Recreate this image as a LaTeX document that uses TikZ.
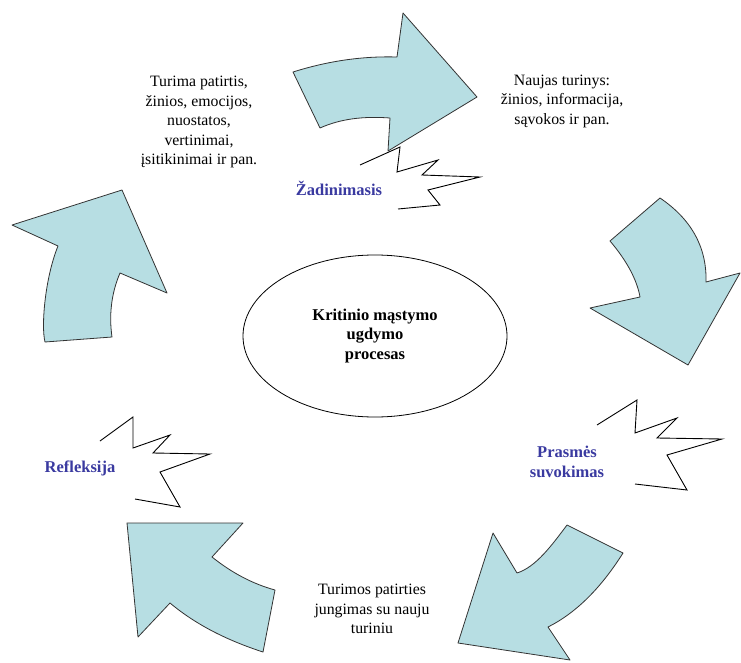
\documentclass[tikz,border=0pt]{standalone}
\usepackage{fontspec}
\setmainfont{Liberation Serif}
\usetikzlibrary{shapes.geometric}
\definecolor{arrowfill}{RGB}{183,222,227}
\definecolor{labelblue}{RGB}{58,58,160}
\begin{document}
\begin{tikzpicture}[x=1pt,y=-1pt,
  bigarrow/.style={fill=arrowfill,draw=black!80,line width=0.8pt,line join=round},
  zig/.style={draw=black,line width=0.9pt,line join=miter},
  plain/.style={align=center,font=\fontsize{15.8}{19.5}\selectfont,inner sep=0pt},
  stage/.style={align=center,font=\fontsize{16.5}{20}\selectfont\bfseries,text=labelblue,inner sep=0pt},
  core/.style={ellipse,draw=black,line width=0.8pt,minimum width=264pt,minimum height=162pt,
    align=center,font=\fontsize{16.5}{19.5}\selectfont\bfseries}]
\useasboundingbox (0,0) rectangle (741,663);
% arrows
\path[bigarrow] (293,72) .. controls (328,61) and (362,56) .. (397,57) -- (403,13) -- (477,97) -- (388,151) -- (390,118) .. controls (363,116) and (340,119) .. (320,128) -- cycle;
\path[bigarrow] (610,241) -- (660,198) .. controls (691,219) and (707,247) .. (706,282) -- (740,273) -- (688,365) -- (590,308) -- (640,297) .. controls (637,280) and (627,261) .. cycle;
\path[bigarrow] (567,525) -- (623,553) .. controls (601,588) and (576,613) .. (548,627) -- (570,660) -- (458,643) -- (493,533) -- (517,573) .. controls (536,567) and (552,545) .. cycle;
\path[bigarrow] (127,523) -- (243,523) -- (212,557) .. controls (232,573) and (253,584) .. (275,590) -- (263,652) .. controls (226,640) and (195,624) .. (170,603) -- (138,637) -- cycle;
\path[bigarrow] (45,342) -- (112,337) .. controls (109,316) and (111,294) .. (120,273) -- (167,293) -- (122,190) -- (12,225) -- (58,246) .. controls (45,278) and (41,326) .. cycle;
% zigzags
\draw[zig] (360,165) -- (400,147) -- (397,172) -- (438,160) -- (422,175) -- (480,177) -- (428,190) -- (440,205) -- (398,209);
\draw[zig] (597,425) -- (637,400) -- (635,433) -- (677,418) -- (657,438) -- (722,439) -- (667,455) -- (687,490) -- (635,484);
\draw[zig] (100,441) -- (133,417) -- (133,448) -- (170,435) -- (153,453) -- (210,454) -- (160,472) -- (180,507) -- (135,499);
% centre
\node[core] (centre) at (375,336) {Kritinio mąstymo\\ugdymo\\procesas};
% texts
\node[plain] (prior) at (199,122) {Turima patirtis,\\žinios, emocijos,\\nuostatos,\\vertinimai,\\įsitikinimai ir pan.};
\node[plain] (newc) at (562,101) {Naujas turinys:\\žinios, informacija,\\sąvokos ir pan.};
\node[plain] (join) at (372,609) {Turimos patirties\\jungimas su nauju\\turiniu};
\node[stage] (wake) at (339,188) {Žadinimasis};
\node[stage] (sense) at (567,462) {Prasmės\\suvokimas};
\node[stage] (refl) at (80,468) {Refleksija};
\end{tikzpicture}
\end{document}
